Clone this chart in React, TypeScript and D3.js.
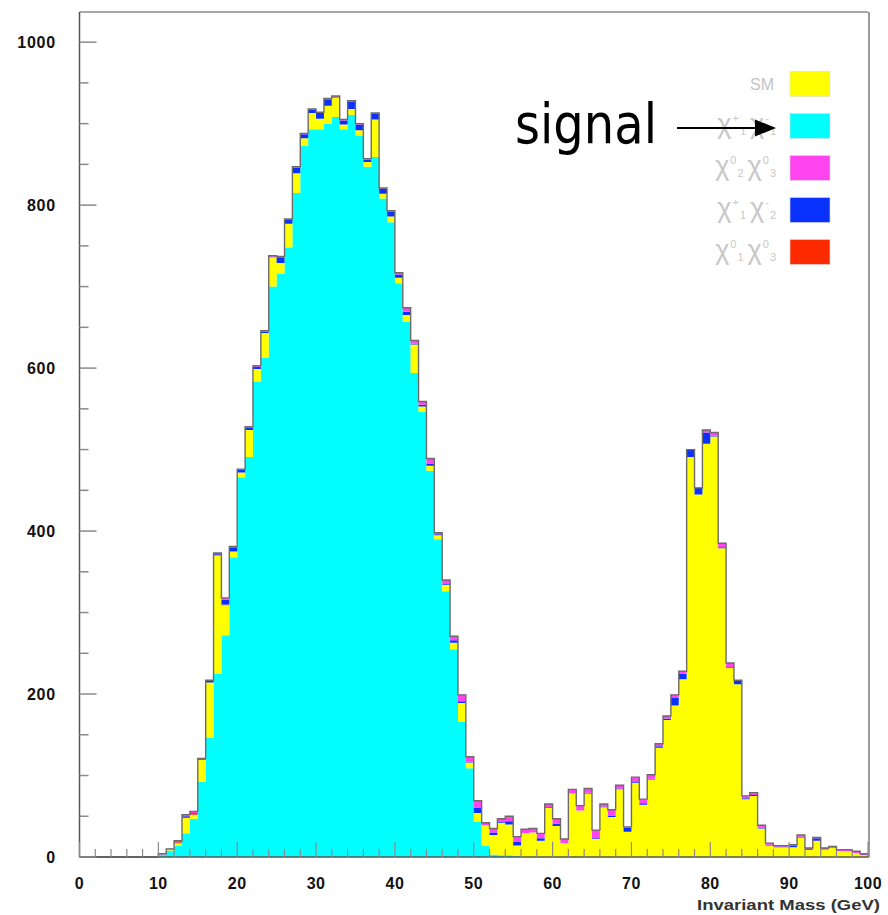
import * as d3 from 'd3';

// 1 GeV bins, 0..100 GeV
const binLow = Array.from({ length: 100 }, (_, i) => i);

// chi+1 chi-1 (signal)
const signal = [
  0, 0, 0, 0, 0, 0, 0, 0, 0, 0,
  3, 8, 14, 29, 47, 92, 146, 225, 272, 368,
  466, 491, 583, 613, 700, 716, 748, 815, 873, 893,
  893, 900, 908, 893, 911, 885, 847, 859, 808, 779,
  704, 657, 594, 546, 474, 390, 326, 255, 166, 109,
  43, 14, 3, 2, 2, 1, 0, 0, 0, 0,
  0, 0, 0, 0, 0, 0, 0, 0, 0, 0,
  0, 0, 0, 0, 0, 0, 0, 0, 0, 0,
  0, 0, 0, 0, 0, 0, 0, 0, 0, 0,
  0, 0, 0, 0, 0, 0, 0, 0, 0, 0,
];

const sm = [
  0, 0, 0, 0, 0, 0, 0, 0, 0, 0,
  0, 1, 3, 19, 5, 27, 68, 145, 37, 7,
  6, 33, 16, 30, 36, 13, 29, 24, 9, 20,
  13, 22, 24, 6, 7, 7, 6, 46, 6, 7,
  7, 8, 35, 7, 6, 5, 8, 8, 23, 7,
  11, 25, 24, 40, 38, 13, 29, 30, 20, 60,
  38, 17, 78, 57, 78, 22, 61, 49, 83, 31,
  91, 64, 95, 134, 168, 186, 218, 491, 445, 507,
  516, 379, 232, 212, 71, 75, 35, 14, 12, 12,
  12, 24, 9, 20, 9, 11, 7, 7, 5, 2,
];

// chi0_1 chi0_3
const chi13 = [
  0, 0, 0, 0, 0, 0, 0, 0, 0, 0,
  0, 0, 1, 1, 1, 0, 0, 1, 1, 0,
  0, 0, 0, 0, 0, 0, 0, 0, 0, 0,
  0, 0, 0, 0, 0, 0, 0, 0, 0, 0,
  0, 0, 0, 0, 0, 0, 0, 0, 0, 0,
  0, 0, 0, 0, 0, 0, 0, 0, 0, 0,
  0, 0, 0, 0, 0, 0, 0, 0, 0, 0,
  0, 0, 0, 0, 0, 0, 0, 0, 0, 0,
  0, 0, 0, 0, 0, 0, 0, 0, 0, 0,
  0, 0, 0, 0, 0, 0, 0, 0, 0, 0,
];

// chi+1 chi-2
const chi12 = [
  0, 0, 0, 0, 0, 0, 0, 0, 0, 0,
  0, 0, 0, 1, 1, 1, 2, 1, 6, 5,
  3, 3, 3, 2, 1, 7, 5, 7, 5, 4,
  7, 8, 1, 5, 9, 7, 3, 7, 6, 6,
  4, 4, 1, 2, 3, 1, 1, 3, 2, 1,
  6, 0, 3, 1, 4, 5, 0, 0, 3, 1,
  3, 0, 0, 0, 1, 1, 1, 2, 1, 5,
  1, 2, 1, 2, 2, 9, 7, 9, 8, 14,
  1, 1, 1, 4, 1, 1, 1, 1, 1, 1,
  2, 1, 1, 3, 0, 0, 0, 0, 0, 0,
];

// chi0_2 chi0_3
const chi23 = [
  0, 0, 0, 0, 0, 0, 0, 0, 0, 0,
  1, 1, 2, 2, 2, 1, 1, 1, 2, 1,
  1, 1, 1, 1, 1, 1, 1, 1, 1, 1,
  1, 1, 1, 1, 1, 1, 1, 1, 1, 1,
  2, 5, 4, 4, 6, 2, 5, 5, 8, 6,
  9, 3, 5, 4, 6, 6, 5, 5, 6, 4,
  6, 5, 5, 6, 5, 10, 3, 7, 4, 1,
  6, 5, 5, 3, 3, 4, 3, 0, 0, 3,
  4, 5, 5, 1, 3, 3, 3, 2, 1, 1,
  1, 2, 1, 1, 2, 2, 2, 2, 2, 2,
];

const yTicks = [0, 200, 400, 600, 800, 1000];
const xTicks = [0, 10, 20, 30, 40, 50, 60, 70, 80, 90, 100];

// stack order bottom -> top
const keys = ['signal', 'sm', 'chi13', 'chi12', 'chi23'];
const colors: Record<string, string> = {
  signal: '#00ffff',
  sm: '#ffff00',
  chi13: '#ff2a00',
  chi12: '#0a32ff',
  chi23: '#ff44f0',
};

const legend = [
  { key: 'sm', label: ['SM'] },
  { key: 'signal', label: ['+', '1', '-', '1'] },
  { key: 'chi23', label: ['0', '2', '0', '3'] },
  { key: 'chi12', label: ['+', '1', '-', '2'] },
  { key: 'chi13', label: ['0', '1', '0', '3'] },
];

const W = 888;
const H = 915;

function App() {
  const x = d3.scaleLinear().domain([0, 100]).range([79.5, 868]);
  const y = d3.scaleLinear().domain([0, 1037]).range([857, 12]);

  const rows = binLow.map((lo, i) => ({
    lo,
    hi: lo + 1,
    signal: signal[i],
    sm: sm[i],
    chi13: chi13[i],
    chi12: chi12[i],
    chi23: chi23[i],
  }));
  const series = d3.stack<any>().keys(keys)(rows);

  type P = [number, number, number];
  const area = d3
    .area<P>()
    .x((p) => x(p[0]))
    .y0((p) => y(p[1]))
    .y1((p) => y(p[2]));

  const top = series[series.length - 1];
  const outlinePts: [number, number][] = [[0, 0]];
  top.forEach((d: any) => {
    outlinePts.push([d.data.lo, d[1]], [d.data.hi, d[1]]);
  });
  outlinePts.push([100, 0]);
  const line = d3
    .line<[number, number]>()
    .x((p) => x(p[0]))
    .y((p) => y(p[1]));

  const x0 = x(0);
  const x1 = x(100);
  const yb = y(0);
  const yt = 12;

  const font = '"Liberation Sans", Arial, Helvetica, sans-serif';

  return (
    <svg
      width={W}
      height={H}
      style={{ position: 'absolute', left: 0, top: 0, background: '#fff' }}
    >
      {series.map((s: any) => {
        const pts: P[] = [];
        s.forEach((d: any) => {
          pts.push([d.data.lo, d[0], d[1]], [d.data.hi, d[0], d[1]]);
        });
        return <path key={s.key} d={area(pts) || ''} fill={colors[s.key]} />;
      })}
      <path d={line(outlinePts) || ''} fill="none" stroke="#6f6a6a" strokeWidth={1.4} />

      {/* frame */}
      <line x1={x0} x2={x1} y1={yt} y2={yt} stroke="#8a8a8a" strokeWidth={1.5} />
      <line x1={x1 + 1} x2={x1 + 1} y1={yt} y2={yb} stroke="#9a9a9a" strokeWidth={2} />
      <line x1={x0} x2={x0} y1={yt} y2={yb} stroke="#555" strokeWidth={1.5} />
      <line x1={x0} x2={x1 + 1} y1={yb} y2={yb} stroke="#555" strokeWidth={1.5} />

      {/* y ticks */}
      {d3.range(0, 1037, 50).map((v) => (
        <line
          key={'yt' + v}
          x1={x0}
          x2={x0 + (v % 200 === 0 ? 17 : 9)}
          y1={y(v)}
          y2={y(v)}
          stroke="#8a8a8a"
          strokeWidth={1.5}
        />
      ))}
      {yTicks.map((v) => (
        <text
          key={'yl' + v}
          x={56}
          y={y(v) + 6}
          textAnchor="end"
          fontFamily={font}
          fontWeight="bold"
          fontSize={16}
          letterSpacing={0.8}
          fill="#111"
        >
          {v}
        </text>
      ))}

      {/* x ticks */}
      {d3.range(0, 101, 2).map((v) => (
        <line
          key={'xt' + v}
          x1={x(v)}
          x2={x(v)}
          y1={yb}
          y2={yb - (v % 10 === 0 ? 15 : 8)}
          stroke="#8a8a8a"
          strokeWidth={1.2}
        />
      ))}
      {xTicks.map((v) => (
        <text
          key={'xl' + v}
          x={x(v)}
          y={889}
          textAnchor="middle"
          fontFamily={font}
          fontWeight="bold"
          fontSize={16}
          letterSpacing={0.5}
          fill="#111"
        >
          {v}
        </text>
      ))}
      <text
        x={880}
        y={910}
        textAnchor="end"
        fontFamily={font}
        fontWeight="bold"
        fontSize={15}
        textLength={183}
        lengthAdjust="spacingAndGlyphs"
        fill="#333"
      >
        Invariant Mass (GeV)
      </text>

      {/* legend */}
      {legend.map((l, i) => {
        const cy = 84 + i * 42;
        return (
          <g key={l.key}>
            <rect x={790} y={cy - 12.5} width={40} height={25} fill={colors[l.key]} stroke="#ddd" strokeWidth={0.6} />
            {l.label.length === 1 ? (
              <text x={774} y={cy + 6} textAnchor="end" fontFamily={font} fontSize={16} fill="#c4c4c4">
                {l.label[0]}
              </text>
            ) : (
              <text x={776} y={cy + 7} textAnchor="end" fontFamily={font} fontSize={27} fill="#c8c8c8">
                <tspan>χ</tspan>
                <tspan fontSize={11} dx={1} dy={-11}>{l.label[0]}</tspan>
                <tspan fontSize={11} dx={1} dy={13}>{l.label[1]}</tspan>
                <tspan dx={4} dy={-2}>χ</tspan>
                <tspan fontSize={11} dx={1} dy={-11}>{l.label[2]}</tspan>
                <tspan fontSize={11} dx={1} dy={13}>{l.label[3]}</tspan>
              </text>
            )}
          </g>
        );
      })}

      {/* annotation */}
      <text
        x={515}
        y={143}
        fontFamily='"DejaVu Sans Condensed", "DejaVu Sans", sans-serif'
        fontSize={56}
        textLength={142}
        lengthAdjust="spacingAndGlyphs"
        fill="#000"
      >
        signal
      </text>
      <line x1={677} x2={758} y1={128} y2={128} stroke="#000" strokeWidth={2} />
      <path d="M 755 119.5 L 776 128 L 755 136.5 Z" fill="#000" />
    </svg>
  );
}

export default App;
